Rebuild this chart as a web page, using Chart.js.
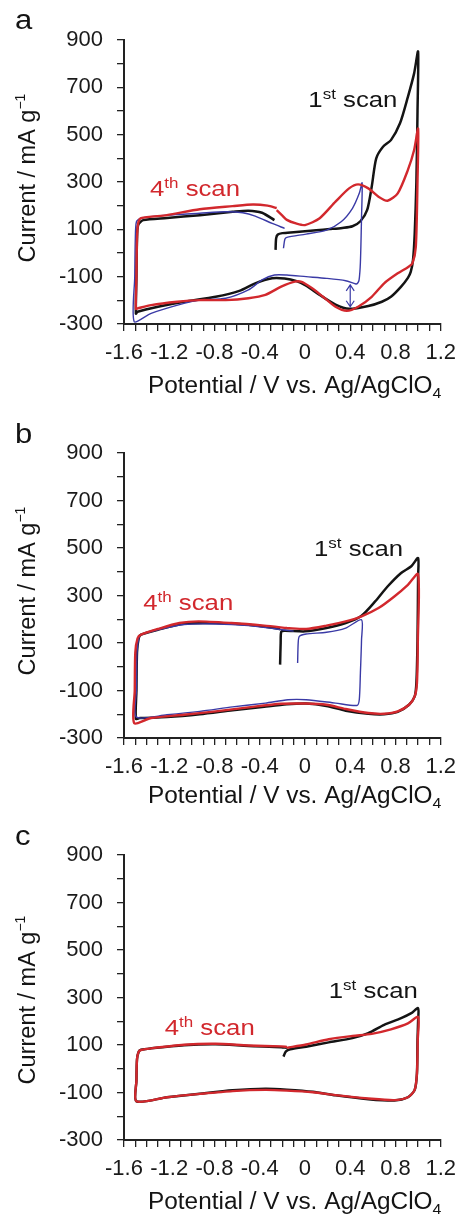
<!DOCTYPE html>
<html>
<head>
<meta charset="utf-8">
<script src="https://cdn.jsdelivr.net/npm/chart.js@4.4.1/dist/chart.umd.min.js"></script>
<style>
  body { margin: 0; background: #fff; width: 465px; height: 1214px; position: relative; overflow: hidden; }
  canvas { position: absolute; left: 0; }
</style>
</head>
<body>
<canvas id="panel-a" width="465" height="399" style="top:0px"></canvas>
<canvas id="panel-b" width="465" height="399" style="top:413px"></canvas>
<canvas id="panel-c" width="465" height="399" style="top:815px"></canvas>
<script>
const FONT = "'Liberation Sans', Arial, sans-serif";
const BLACK = "#141414";
const RED = "#d2282d";
const BLUE = "#3a3aa6";

// potential (V vs Ag/AgClO4), current (mA/g) pairs, in scan order
const aScan1 = [
  [-0.26, 13], [-0.255, 62], [-0.24, 78], [-0.2, 84], [-0.1, 88], [0, 92], [0.1, 96], [0.22, 101],
  [0.33, 106], [0.42, 113], [0.49, 134], [0.55, 182], [0.59, 280], [0.63, 400], [0.69, 449],
  [0.76, 477], [0.84, 548], [0.91, 660], [0.965, 759], [1.0, 851],
  [0.995, 600], [0.985, 300], [0.97, 80], [0.955, -30], [0.935, -80], [0.91, -105], [0.85, -142],
  [0.76, -185], [0.68, -206], [0.56, -224], [0.39, -236], [0.27, -218], [0.13, -177], [0.01, -138],
  [-0.08, -118], [-0.18, -108], [-0.29, -107], [-0.44, -128], [-0.58, -160], [-0.79, -185],
  [-1.07, -206], [-1.3, -227], [-1.48, -248], [-1.495, -256],
  [-1.49, -100], [-1.485, 60], [-1.475, 118], [-1.43, 139], [-1.22, 148], [-0.93, 160],
  [-0.64, 174], [-0.5, 179], [-0.38, 170], [-0.27, 139]
];
const aScan4 = [
  [-0.25, 181], [-0.2, 158], [-0.16, 140], [-0.08, 125], [0, 118], [0.13, 147], [0.27, 217], [0.39, 273],
  [0.47, 290], [0.56, 273], [0.65, 238], [0.73, 221], [0.82, 252], [0.91, 351], [0.965, 435], [1.0, 525],
  [0.995, 308], [0.98, 27], [0.95, -44], [0.91, -60], [0.82, -86], [0.7, -128], [0.59, -185],
  [0.47, -227], [0.37, -244], [0.27, -227], [0.16, -185], [0.06, -148], [-0.03, -122], [-0.09, -121],
  [-0.21, -142], [-0.35, -177], [-0.5, -191], [-0.7, -199], [-0.93, -199], [-1.13, -206],
  [-1.36, -220], [-1.48, -234], [-1.495, -236],
  [-1.49, -100], [-1.485, 60], [-1.475, 125], [-1.45, 147], [-1.22, 160], [-0.93, 185],
  [-0.64, 198], [-0.46, 205], [-0.33, 200], [-0.25, 190]
];
const aNarrow = [
  [-0.19, 20], [-0.178, 58], [-0.16, 66], [0.01, 80], [0.19, 97], [0.32, 132], [0.42, 189],
  [0.48, 252], [0.505, 296],
  [0.5, 150], [0.49, -40], [0.478, -115], [0.465, -128], [0.45, -131], [0.36, -117], [0.19, -107],
  [0.01, -100], [-0.16, -93], [-0.27, -93], [-0.38, -114], [-0.5, -156], [-0.7, -191], [-0.93, -199],
  [-1.07, -213], [-1.36, -255], [-1.51, -290],
  [-1.505, -100], [-1.5, 60], [-1.49, 132], [-1.45, 147], [-1.22, 160], [-0.93, 168], [-0.7, 174],
  [-0.55, 170], [-0.44, 156], [-0.29, 125], [-0.18, 104]
];

const bScan1 = [
  [-0.22, 9], [-0.215, 100], [-0.21, 147], [-0.18, 152], [0, 149], [0.19, 163], [0.36, 184],
  [0.5, 215], [0.62, 275], [0.73, 338], [0.85, 395], [0.94, 423], [1.0, 458],
  [1.0, 380], [0.995, 114], [0.985, -68], [0.97, -125], [0.92, -160], [0.82, -190], [0.7, -200],
  [0.56, -198], [0.36, -185], [0.19, -165], [0.01, -155], [-0.16, -158], [-0.36, -168],
  [-0.64, -183], [-0.93, -200], [-1.22, -212], [-1.46, -216], [-1.495, -219],
  [-1.49, -100], [-1.485, 60], [-1.47, 120], [-1.45, 135], [-1.3, 156], [-1.07, 181],
  [-0.79, 184], [-0.5, 177], [-0.27, 163], [-0.22, 158]
];
const bScan4 = [
  [-0.16, 163], [0.01, 159], [0.19, 173], [0.36, 191], [0.5, 212], [0.65, 247], [0.79, 296],
  [0.91, 345], [1.0, 390],
  [0.998, 114], [0.99, -68], [0.97, -125], [0.92, -160], [0.82, -188], [0.7, -198], [0.56, -195],
  [0.36, -178], [0.19, -160], [0.01, -155], [-0.21, -156], [-0.5, -171], [-0.79, -188],
  [-1.07, -202], [-1.36, -216], [-1.51, -237],
  [-1.505, -100], [-1.5, 60], [-1.48, 120], [-1.45, 135], [-1.3, 159], [-1.11, 184],
  [-0.94, 191], [-0.65, 184], [-0.36, 173], [-0.16, 163]
];
const bNarrow = [
  [-0.065, 16], [-0.06, 100], [-0.05, 128], [0.01, 138], [0.19, 145], [0.36, 163], [0.5, 198],
  [0.5, 114], [0.49, -26], [0.48, -139], [0.46, -163], [0.27, -153], [0.01, -139], [-0.15, -139],
  [-0.35, -153], [-0.64, -169], [-0.93, -188], [-1.22, -202], [-1.49, -212],
  [-1.49, -100], [-1.485, 60], [-1.47, 120], [-1.45, 135], [-1.3, 156], [-1.07, 178],
  [-0.79, 180], [-0.5, 173], [-0.27, 160], [-0.1, 150]
];

const cScan1 = [
  [-0.19, 51], [-0.17, 72], [-0.13, 82], [0.01, 93], [0.21, 111], [0.42, 129], [0.56, 150],
  [0.7, 185], [0.85, 213], [0.94, 234], [1.0, 255],
  [1.0, 200], [0.995, 121], [0.99, -19], [0.97, -89], [0.91, -120], [0.79, -134], [0.56, -128],
  [0.27, -112], [0.07, -97], [-0.16, -88], [-0.35, -84], [-0.64, -91], [-0.93, -105],
  [-1.22, -120], [-1.49, -137],
  [-1.49, -50], [-1.485, 40], [-1.47, 72], [-1.45, 80], [-1.36, 86], [-1.07, 99], [-0.79, 103],
  [-0.5, 96], [-0.21, 91], [-0.16, 88]
];
const cScan4 = [
  [-0.16, 88], [0.01, 102], [0.21, 124], [0.42, 138], [0.59, 147], [0.76, 166], [0.91, 191], [1.0, 218],
  [0.997, 121], [0.99, -19], [0.97, -89], [0.91, -120], [0.79, -132], [0.56, -125], [0.27, -111],
  [0.07, -99], [-0.16, -92], [-0.35, -89], [-0.64, -94], [-0.93, -106], [-1.22, -120], [-1.49, -137],
  [-1.49, -50], [-1.485, 40], [-1.47, 72], [-1.45, 79], [-1.36, 86], [-1.07, 101], [-0.79, 105],
  [-0.5, 98], [-0.21, 94], [-0.16, 92]
];

// axis limits
const xRange = [-1.6, 1.2];
const yRange = [-300, 900];

function runsWidth(ctx, runs) {
  let w = 0;
  for (const r of runs) {
    ctx.font = r.size + "px " + FONT;
    w += ctx.measureText(r.t).width;
  }
  return w;
}

function drawRuns(ctx, runs, x, y, sx, color) {
  ctx.save();
  ctx.translate(x, y);
  ctx.scale(sx, 1);
  ctx.fillStyle = color;
  ctx.textBaseline = "alphabetic";
  ctx.textAlign = "left";
  let cx = 0;
  for (const r of runs) {
    ctx.font = r.size + "px " + FONT;
    ctx.fillText(r.t, cx, r.dy || 0);
    cx += ctx.measureText(r.t).width;
  }
  ctx.restore();
}

const cvLabels = {
  id: "cvLabels",
  afterDraw(chart, args, opts) {
    const { ctx, chartArea } = chart;
    const xs = chart.scales.x;
    const ys = chart.scales.y;

    drawRuns(ctx, [{ t: opts.letter, size: 27 }], 15, opts.letterY, 1.15, BLACK);

    // y title, rotated
    const yRuns = [
      { t: "Current / mA g", size: 23.5 },
      { t: "\u22121", size: 14, dy: -10 }
    ];
    const w = runsWidth(ctx, yRuns);
    ctx.save();
    ctx.translate(35, opts.yTitleY);
    ctx.rotate(-Math.PI / 2);
    drawRuns(ctx, yRuns, -w / 2, 0, 1, BLACK);
    ctx.restore();

    // x title
    drawRuns(ctx, [
      { t: "Potential / V vs. Ag/AgClO", size: 23 },
      { t: "4", size: 15, dy: 5 }
    ], 148, chartArea.bottom + opts.xTitleDy, 1.06, BLACK);

    // scan labels
    drawRuns(ctx, [
      { t: "1", size: 22 },
      { t: "st", size: 14.5, dy: -8 },
      { t: " scan", size: 22 }
    ], xs.getPixelForValue(opts.first[0]), ys.getPixelForValue(opts.first[1]), 1.17, BLACK);
    drawRuns(ctx, [
      { t: "4", size: 22 },
      { t: "th", size: 14.5, dy: -8 },
      { t: " scan", size: 22 }
    ], xs.getPixelForValue(opts.fourth[0]), ys.getPixelForValue(opts.fourth[1]), 1.17, RED);

    if (opts.arrow) {
      const ax = xs.getPixelForValue(opts.arrow[0]);
      const y1 = ys.getPixelForValue(opts.arrow[1]);
      const y2 = ys.getPixelForValue(opts.arrow[2]);
      ctx.save();
      ctx.strokeStyle = BLUE;
      ctx.lineWidth = 1.2;
      ctx.beginPath();
      ctx.moveTo(ax, y1);
      ctx.lineTo(ax, y2);
      ctx.moveTo(ax - 4, y1 + 6);
      ctx.lineTo(ax, y1);
      ctx.lineTo(ax + 4, y1 + 6);
      ctx.moveTo(ax - 4, y2 - 6);
      ctx.lineTo(ax, y2);
      ctx.lineTo(ax + 4, y2 - 6);
      ctx.stroke();
      ctx.restore();
    }
  }
};

function toPoints(pairs) {
  return pairs.map((p) => ({ x: p[0], y: p[1] }));
}

function curve(pairs, color, width) {
  return {
    data: toPoints(pairs),
    borderColor: color,
    borderWidth: width,
    showLine: true,
    pointRadius: 0,
    tension: 0.25,
    fill: false
  };
}

// first dataset in the list is drawn on top
function makePanel(canvasId, curves, labels, xAxisHeight) {
  return new Chart(document.getElementById(canvasId), {
    type: "scatter",
    data: { datasets: curves },
    plugins: [cvLabels],
    options: {
      responsive: false,
      animation: false,
      devicePixelRatio: 1,
      layout: { padding: { top: 40, right: 18, left: 0, bottom: 0 } },
      plugins: {
        legend: { display: false },
        tooltip: { enabled: false },
        cvLabels: labels
      },
      scales: {
        x: {
          type: "linear",
          min: xRange[0],
          max: xRange[1],
          afterFit: (scale) => { scale.height = xAxisHeight; },
          border: { display: true, color: "#222", width: 2 },
          grid: { drawOnChartArea: false, drawTicks: true, tickLength: 7, color: "#222", lineWidth: 1.3 },
          ticks: {
            stepSize: 0.1,
            maxTicksLimit: 100,
            autoSkip: false,
            maxRotation: 0,
            minRotation: 0,
            padding: 9,
            color: "#1a1a1a",
            font: { size: 22, family: FONT },
            callback: (v) => {
              const n = Math.round(v * 10);
              if ((n + 16) % 4 !== 0) return "";
              return n === 0 ? "0" : (n / 10).toFixed(1);
            }
          }
        },
        y: {
          type: "linear",
          min: yRange[0],
          max: yRange[1],
          afterFit: (scale) => { scale.width = 124; },
          border: { display: true, color: "#222", width: 2 },
          grid: { drawOnChartArea: false, drawTicks: true, tickLength: 7, color: "#222", lineWidth: 1.3 },
          ticks: {
            stepSize: 100,
            maxTicksLimit: 100,
            autoSkip: false,
            padding: 14,
            color: "#1a1a1a",
            font: { size: 22, family: FONT },
            callback: (v) => {
              const n = Math.round(v);
              return (n + 300) % 200 === 0 ? String(n) : "";
            }
          }
        }
      }
    }
  });
}

makePanel("panel-a",
  [curve(aScan4, RED, 2.4), curve(aNarrow, BLUE, 1.4), curve(aScan1, BLACK, 2.5)],
  { letter: "a", letterY: 29, yTitleY: 178, xTitleDy: 69, first: [0.03, 617], fourth: [-1.37, 241], arrow: [0.4, -135, -227] },
  75);

makePanel("panel-b",
  [curve(bScan4, RED, 2.4), curve(bNarrow, BLUE, 1.4), curve(bScan1, BLACK, 2.5)],
  { letter: "b", letterY: 30, yTitleY: 178, xTitleDy: 65, first: [0.08, 465], fourth: [-1.43, 240] },
  74);

makePanel("panel-c",
  [curve(cScan4, RED, 2.4), curve(cScan1, BLACK, 2.5)],
  { letter: "c", letterY: 30, yTitleY: 185, xTitleDy: 69, first: [0.21, 298], fourth: [-1.24, 142] },
  74);
</script>
</body>
</html>
